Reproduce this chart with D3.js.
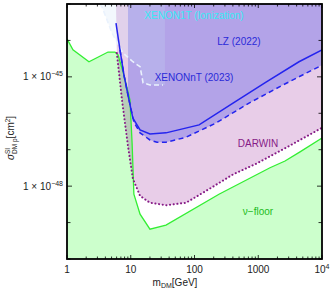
<!DOCTYPE html>
<html>
<head>
<meta charset="utf-8">
<script src="https://cdn.jsdelivr.net/npm/d3@7"></script>
<style>
  body { margin: 0; background: #fff; }
  svg { display: block; font-family: "Liberation Sans", Arial, sans-serif; }
</style>
</head>
<body>
<svg id="chart" width="332" height="292"></svg>
<script>
// values: [mass in GeV, cross section in cm^2]
const nuFloor = [
  [1, 1.1e-44], [1.24, 5.5e-45], [2.21, 2.6e-45], [4.4, 4.8e-45], [5.66, 4.8e-45],
  [6.32, 4.0e-45], [7.84, 1.1e-45], [9.73, 2.3e-46], [10.5, 1.5e-47], [11.2, 6.0e-49],
  [14.0, 1.7e-49], [20, 6.6e-50], [35.7, 8.5e-50], [242, 6.0e-49], [1528, 3.2e-48],
  [2630, 4.9e-48], [4520, 8.7e-48], [1e4, 2.1e-47]
];
const darwin = [
  [5.87, 1e-43], [6.05, 4.5e-45], [7.29, 2.3e-46], [9.05, 1.26e-47], [10.8, 1.6e-48],
  [14.0, 5.4e-49], [20, 3.5e-49], [35.7, 3.0e-49], [73.6, 3.5e-49], [169, 8.3e-49],
  [402, 2.1e-48], [922, 4.1e-48], [3036, 1.26e-47], [1e4, 4.0e-47]
];
const lz2022 = [
  [5.87, 3.0e-44], [6.78, 5.5e-45], [7.84, 1.1e-45], [9.39, 2.3e-46], [10.8, 7.4e-47],
  [14.0, 3.5e-47], [20, 2.7e-47], [35.7, 2.9e-47], [118, 4.8e-47], [402, 1.9e-46],
  [1324, 7.2e-46], [4355, 2.6e-45], [1e4, 5.5e-45]
];
const xenonnt2023 = [
  [6.78, 5.5e-45], [7.84, 1.1e-45], [9.39, 2.3e-46], [11.2, 5.7e-47], [14.0, 2.9e-47],
  [20, 1.85e-47], [25.8, 1.6e-47], [35.7, 1.6e-47], [73.6, 2.2e-47], [217, 5.4e-47],
  [716, 1.9e-46], [2443, 6.0e-46], [1e4, 2.1e-45]
];
const xenon1tIon = [
  [3.29, 1e-43], [3.54, 8.3e-44], [5.08, 1.6e-44], [7.56, 4.5e-45], [10.8, 2.6e-45],
  [14.0, 1.9e-45], [15.0, 1.0e-45], [15.6, 6.8e-46], [20, 6.0e-46], [32.1, 6.0e-46]
];
const xenon1tEdge = 34.4;   // right edge of the ionization-only region
const xenonntEdge = 9.05;   // left edge of the shaded LZ/XENONnT region

const xTicks = [1, 10, 100, 1000, 10000];
const xTickLabels = ["1", "10", "100", "1000", "10^4"];
const yLabelTicks = [1e-45, 1e-48];
const yLabelExp = ["-45", "-48"];

const svg = d3.select("#chart");
const x = d3.scaleLog().domain([1, 1e4]).range([67, 322]);
const y = d3.scaleLog().domain([1e-50, 1e-43]).range([259, 4]);
const yTop = y.range()[1], yBot = y.range()[0];

svg.append("clipPath").attr("id", "plot")
  .append("rect")
  .attr("x", x.range()[0]).attr("y", yTop)
  .attr("width", x.range()[1] - x.range()[0]).attr("height", yBot - yTop);
svg.append("clipPath").attr("id", "nt")
  .append("rect")
  .attr("x", x(xenonntEdge)).attr("y", yTop)
  .attr("width", x.range()[1] - x(xenonntEdge)).attr("height", yBot - yTop);

const g = svg.append("g").attr("clip-path", "url(#plot)");

const above = d3.area().x(d => x(d[0])).y0(yTop).y1(d => y(d[1]));
const below = d3.area().x(d => x(d[0])).y0(yBot).y1(d => y(d[1]));
const line = d3.line().x(d => x(d[0])).y(d => y(d[1]));

// shaded regions
g.append("path").attr("d", above(darwin)).attr("fill", "#e8cde8");
g.append("g").attr("clip-path", "url(#nt)")
  .append("path").attr("d", above(xenonnt2023)).attr("fill", "#b3a3e8");
g.append("path").attr("d", below(nuFloor)).attr("fill", "#ccffcc")
  .style("mix-blend-mode", "multiply");
g.append("path")
  .attr("d", line(xenon1tIon.concat([[xenon1tEdge, xenon1tIon[xenon1tIon.length - 1][1]], [xenon1tEdge, 1e-43]])) + "Z")
  .attr("fill", "rgb(200,222,248)").attr("fill-opacity", 0.22);

// curves
g.append("path").attr("d", line(nuFloor)).attr("fill", "none")
  .attr("stroke", "#33ee33").attr("stroke-width", 1.3);
g.append("path").attr("d", line(darwin.slice(1))).attr("fill", "none")
  .attr("stroke", "#861a86").attr("stroke-width", 2)
  .attr("stroke-dasharray", "0.1 3.6").attr("stroke-linecap", "round");
g.append("path").attr("d", line(xenon1tIon)).attr("fill", "none")
  .attr("stroke", "#eaf2fd").attr("stroke-width", 1.6).attr("stroke-dasharray", "5 3");
g.append("path").attr("d", line(lz2022)).attr("fill", "none")
  .attr("stroke", "#2424ee").attr("stroke-width", 1.5);
g.append("path").attr("d", line(xenonnt2023)).attr("fill", "none")
  .attr("stroke", "#2424ee").attr("stroke-width", 1.5).attr("stroke-dasharray", "5 3.5");

// region labels
const labels = [
  { t: "XENON1T (Ionization)", x: 194, y: 19, c: "#38eaf4" },
  { t: "LZ (2022)", x: 239, y: 45, c: "#2a2ad8" },
  { t: "XENONnT (2023)", x: 194, y: 81, c: "#2a2ad8" },
  { t: "DARWIN", x: 258, y: 147, c: "#861a86" },
  { t: "\u03bd\u2212floor", x: 258, y: 215, c: "#22bb22" }
];
svg.selectAll("text.lab").data(labels).enter().append("text")
  .attr("class", "lab")
  .attr("x", d => d.x).attr("y", d => d.y)
  .attr("text-anchor", "middle").attr("font-size", 10)
  .attr("fill", d => d.c).text(d => d.t);

// frame
svg.append("rect")
  .attr("x", x.range()[0]).attr("y", yTop)
  .attr("width", x.range()[1] - x.range()[0]).attr("height", yBot - yTop)
  .attr("fill", "none").attr("stroke", "#000").attr("stroke-width", 1.8);

// ticks
const xt = x.ticks();
xt.forEach(v => {
  const major = Math.abs(Math.log10(v) - Math.round(Math.log10(v))) < 1e-9;
  const len = major ? 4 : 2.5;
  svg.append("line").attr("x1", x(v)).attr("x2", x(v)).attr("y1", yBot).attr("y2", yBot - len)
    .attr("stroke", "#000").attr("stroke-width", 0.8);
  svg.append("line").attr("x1", x(v)).attr("x2", x(v)).attr("y1", yTop).attr("y2", yTop + len)
    .attr("stroke", "#000").attr("stroke-width", 0.8);
});
d3.range(-50, -42).map(e => Math.pow(10, e)).forEach(v => {
  const labelled = yLabelTicks.some(t => Math.abs(Math.log10(t) - Math.log10(v)) < 1e-6);
  const len = labelled ? 5 : 3.5;
  svg.append("line").attr("x1", x.range()[0]).attr("x2", x.range()[0] + len).attr("y1", y(v)).attr("y2", y(v))
    .attr("stroke", "#000").attr("stroke-width", 0.8);
  svg.append("line").attr("x1", x.range()[1]).attr("x2", x.range()[1] - len).attr("y1", y(v)).attr("y2", y(v))
    .attr("stroke", "#000").attr("stroke-width", 0.8);
});

// x tick labels
xTicks.forEach((v, i) => {
  const t = svg.append("text").attr("x", x(v)).attr("y", 273)
    .attr("text-anchor", "middle").attr("font-size", 10).attr("fill", "#222");
  const lab = xTickLabels[i];
  if (lab.includes("^")) {
    const [b, e] = lab.split("^");
    t.append("tspan").text(b);
    t.append("tspan").attr("dy", -4).attr("font-size", 7).text(e);
  } else {
    t.text(lab);
  }
});

// y tick labels
yLabelTicks.forEach((v, i) => {
  const t = svg.append("text").attr("x", 63).attr("y", y(v) + 3.5)
    .attr("text-anchor", "end").attr("font-size", 10).attr("fill", "#222");
  t.append("tspan").text("1 \u00d7 10");
  t.append("tspan").attr("dy", -4).attr("font-size", 7).text(yLabelExp[i].replace("-", "\u2212"));
});

// axis titles
const xl = svg.append("text").attr("x", 175).attr("y", 286)
  .attr("text-anchor", "middle").attr("font-size", 10).attr("fill", "#222");
xl.append("tspan").text("m");
xl.append("tspan").attr("dy", 2).attr("font-size", 7).text("DM");
xl.append("tspan").attr("dy", -2).text("[GeV]");

const yl = svg.append("text")
  .attr("transform", "translate(14,138) rotate(-90)")
  .attr("text-anchor", "middle").attr("font-size", 10).attr("fill", "#222");
yl.append("tspan").attr("font-style", "italic").text("\u03c3");
yl.append("tspan").attr("dy", -4).attr("font-size", 6.5).text("SI");
yl.append("tspan").attr("dx", -6).attr("dy", 7).attr("font-size", 6.5).text("DM p");
yl.append("tspan").attr("dy", -3).text("[cm");
yl.append("tspan").attr("dy", -4).attr("font-size", 6.5).text("2");
yl.append("tspan").attr("dy", 4).text("]");
</script>
</body>
</html>
